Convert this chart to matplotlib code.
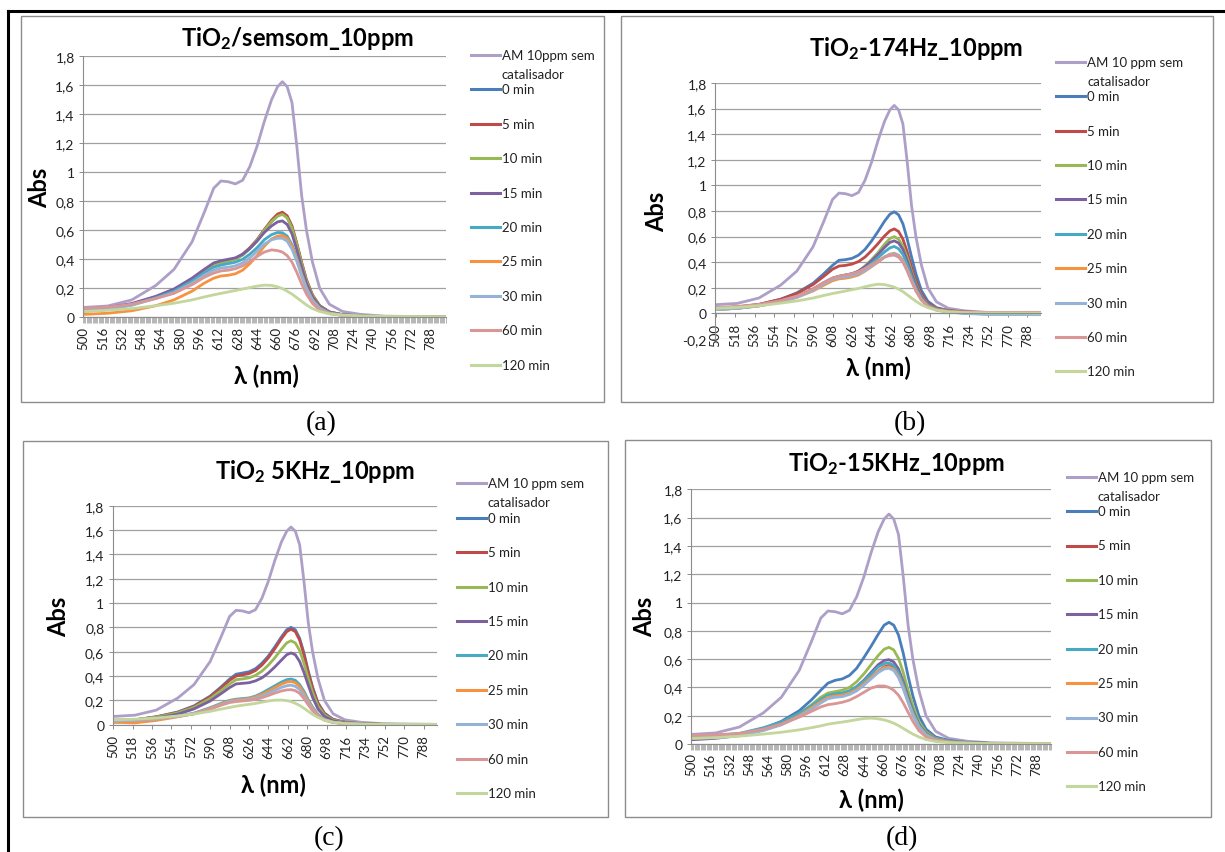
import matplotlib
matplotlib.use("Agg")
import matplotlib.pyplot as plt
from matplotlib.lines import Line2D
from matplotlib.patches import Rectangle
import numpy as np

plt.rcParams['font.family'] = ['Lato', 'DejaVu Sans']
plt.rcParams['mathtext.default'] = 'regular'

wl = [500, 520, 540, 560, 575, 590, 600, 608, 614, 620, 626, 632, 638, 644, 650,
      656, 661, 665, 669, 673, 677, 681, 685, 690, 696, 704, 715, 730, 750, 800]

# methylene blue without catalyst (same in all four panels)
am = [0.068, 0.078, 0.12, 0.22, 0.33, 0.52, 0.72, 0.89, 0.94, 0.935, 0.92, 0.945, 1.04, 1.18, 1.35,
      1.50, 1.59, 1.625, 1.59, 1.48, 1.18, 0.84, 0.60, 0.38, 0.20, 0.09, 0.04, 0.02, 0.008, 0.003]

times = ["0 min", "5 min", "10 min", "15 min", "20 min", "25 min", "30 min", "60 min", "120 min"]
colors = ['#4A7EBB', '#BE4B48', '#98B954', '#7D60A0', '#46AAC5', '#F69240', '#95B3D7', '#D99694', '#C3D69B']
am_color = '#AD9FC8'

# (a) TiO2 / no sound
a_0 = [0.05, 0.062, 0.09, 0.14, 0.19, 0.26, 0.32, 0.365, 0.38, 0.39, 0.405, 0.43, 0.475, 0.53, 0.60,
       0.66, 0.70, 0.715, 0.69, 0.62, 0.50, 0.37, 0.25, 0.15, 0.08, 0.037, 0.018, 0.009, 0.004, 0.002]
a_5 = [0.05, 0.062, 0.09, 0.14, 0.19, 0.26, 0.32, 0.365, 0.38, 0.39, 0.405, 0.435, 0.48, 0.535, 0.605,
       0.67, 0.712, 0.725, 0.70, 0.63, 0.51, 0.38, 0.26, 0.155, 0.08, 0.037, 0.018, 0.009, 0.004, 0.002]
a_10 = [0.04, 0.055, 0.085, 0.135, 0.185, 0.255, 0.315, 0.36, 0.375, 0.385, 0.40, 0.43, 0.475, 0.53, 0.60,
        0.66, 0.697, 0.71, 0.685, 0.615, 0.50, 0.37, 0.25, 0.15, 0.078, 0.035, 0.017, 0.008, 0.004, 0.002]
a_15 = [0.055, 0.067, 0.095, 0.145, 0.195, 0.27, 0.33, 0.375, 0.39, 0.40, 0.41, 0.435, 0.475, 0.525, 0.585,
        0.63, 0.658, 0.665, 0.64, 0.575, 0.465, 0.345, 0.235, 0.14, 0.075, 0.035, 0.017, 0.008, 0.004, 0.002]
a_20 = [0.05, 0.062, 0.088, 0.135, 0.18, 0.25, 0.305, 0.345, 0.36, 0.37, 0.38, 0.40, 0.435, 0.48, 0.535,
        0.57, 0.585, 0.583, 0.56, 0.50, 0.41, 0.30, 0.205, 0.12, 0.065, 0.03, 0.015, 0.007, 0.003, 0.002]
a_25 = [0.02, 0.028, 0.045, 0.08, 0.12, 0.18, 0.235, 0.27, 0.285, 0.29, 0.30, 0.325, 0.37, 0.425, 0.49,
        0.54, 0.56, 0.565, 0.545, 0.49, 0.40, 0.295, 0.20, 0.12, 0.063, 0.028, 0.014, 0.007, 0.003, 0.002]
a_30 = [0.045, 0.057, 0.083, 0.13, 0.17, 0.235, 0.29, 0.325, 0.34, 0.345, 0.355, 0.375, 0.41, 0.455, 0.505,
        0.535, 0.545, 0.545, 0.525, 0.47, 0.385, 0.285, 0.195, 0.115, 0.06, 0.028, 0.014, 0.007, 0.003, 0.002]
a_60 = [0.06, 0.07, 0.09, 0.13, 0.165, 0.225, 0.275, 0.305, 0.32, 0.325, 0.335, 0.355, 0.385, 0.42, 0.45,
        0.465, 0.46, 0.45, 0.425, 0.38, 0.31, 0.23, 0.16, 0.095, 0.05, 0.025, 0.013, 0.006, 0.003, 0.002]
a_120 = [0.04, 0.048, 0.06, 0.08, 0.097, 0.12, 0.14, 0.155, 0.165, 0.175, 0.185, 0.195, 0.205, 0.215, 0.222,
         0.22, 0.21, 0.198, 0.18, 0.16, 0.135, 0.11, 0.085, 0.06, 0.04, 0.024, 0.015, 0.01, 0.006, 0.004]

# (b) 174 Hz
b_0 = [0.04, 0.05, 0.07, 0.11, 0.16, 0.235, 0.31, 0.375, 0.415, 0.42, 0.43, 0.455, 0.50, 0.565, 0.64,
       0.72, 0.775, 0.794, 0.77, 0.70, 0.58, 0.44, 0.31, 0.18, 0.095, 0.045, 0.022, 0.01, 0.004, 0.0]
b_5 = [0.04, 0.05, 0.07, 0.11, 0.155, 0.225, 0.29, 0.345, 0.37, 0.375, 0.385, 0.405, 0.44, 0.49, 0.545,
       0.605, 0.645, 0.66, 0.64, 0.58, 0.48, 0.36, 0.255, 0.15, 0.08, 0.04, 0.022, 0.012, 0.006, 0.005]
b_10 = [0.03, 0.04, 0.06, 0.095, 0.13, 0.19, 0.24, 0.275, 0.29, 0.30, 0.31, 0.33, 0.37, 0.42, 0.475,
        0.54, 0.585, 0.60, 0.58, 0.525, 0.435, 0.325, 0.23, 0.135, 0.07, 0.035, 0.018, 0.008, 0.004, 0.002]
b_15 = [0.04, 0.05, 0.065, 0.10, 0.135, 0.19, 0.24, 0.275, 0.29, 0.30, 0.31, 0.33, 0.365, 0.41, 0.46,
        0.515, 0.555, 0.567, 0.55, 0.50, 0.41, 0.31, 0.22, 0.13, 0.068, 0.033, 0.016, 0.008, 0.003, 0.001]
b_20 = [0.03, 0.04, 0.06, 0.095, 0.13, 0.185, 0.235, 0.27, 0.285, 0.29, 0.30, 0.32, 0.35, 0.39, 0.435,
        0.48, 0.512, 0.523, 0.505, 0.46, 0.38, 0.285, 0.20, 0.12, 0.063, 0.03, 0.012, 0.002, -0.005, -0.008]
b_25 = [0.03, 0.04, 0.058, 0.09, 0.125, 0.175, 0.22, 0.255, 0.27, 0.275, 0.285, 0.30, 0.33, 0.365, 0.40,
        0.44, 0.463, 0.47, 0.455, 0.415, 0.345, 0.26, 0.185, 0.11, 0.058, 0.028, 0.014, 0.006, 0.002, 0.0]
b_30 = [0.03, 0.04, 0.058, 0.09, 0.125, 0.18, 0.23, 0.265, 0.28, 0.285, 0.295, 0.31, 0.335, 0.37, 0.405,
        0.44, 0.46, 0.465, 0.45, 0.41, 0.34, 0.255, 0.18, 0.105, 0.055, 0.025, 0.01, 0.0, -0.008, -0.01]
b_60 = [0.045, 0.055, 0.07, 0.10, 0.135, 0.19, 0.24, 0.275, 0.29, 0.30, 0.31, 0.325, 0.35, 0.38, 0.41,
        0.44, 0.452, 0.455, 0.44, 0.40, 0.33, 0.25, 0.175, 0.105, 0.055, 0.028, 0.015, 0.01, 0.008, 0.008]
b_120 = [0.04, 0.047, 0.06, 0.08, 0.097, 0.12, 0.14, 0.155, 0.165, 0.175, 0.185, 0.195, 0.208, 0.22, 0.228,
         0.225, 0.215, 0.205, 0.19, 0.17, 0.145, 0.12, 0.095, 0.068, 0.045, 0.025, 0.012, 0.006, 0.003, 0.002]

# (c) 5 kHz
c_0 = [0.03, 0.04, 0.065, 0.105, 0.155, 0.235, 0.31, 0.375, 0.415, 0.425, 0.435, 0.46, 0.505, 0.565, 0.64,
       0.72, 0.78, 0.80, 0.78, 0.71, 0.59, 0.44, 0.31, 0.18, 0.095, 0.045, 0.02, 0.008, 0.003, 0.001]
c_5 = [0.03, 0.04, 0.065, 0.10, 0.15, 0.23, 0.30, 0.365, 0.40, 0.41, 0.42, 0.445, 0.49, 0.55, 0.625,
       0.705, 0.765, 0.785, 0.765, 0.695, 0.575, 0.43, 0.30, 0.175, 0.09, 0.043, 0.02, 0.008, 0.003, 0.001]
c_10 = [0.03, 0.04, 0.062, 0.097, 0.143, 0.215, 0.28, 0.335, 0.37, 0.376, 0.385, 0.405, 0.44, 0.49, 0.55,
        0.62, 0.672, 0.69, 0.672, 0.61, 0.505, 0.38, 0.265, 0.155, 0.08, 0.038, 0.018, 0.007, 0.003, 0.001]
c_15 = [0.03, 0.038, 0.055, 0.087, 0.13, 0.195, 0.255, 0.305, 0.335, 0.34, 0.345, 0.36, 0.385, 0.425, 0.475,
        0.53, 0.575, 0.59, 0.575, 0.52, 0.43, 0.325, 0.225, 0.13, 0.068, 0.032, 0.015, 0.006, 0.002, 0.001]
c_20 = [0.02, 0.03, 0.045, 0.07, 0.095, 0.14, 0.175, 0.2, 0.21, 0.215, 0.22, 0.235, 0.26, 0.29, 0.32,
        0.35, 0.37, 0.375, 0.365, 0.33, 0.275, 0.205, 0.145, 0.085, 0.045, 0.022, 0.01, 0.004, 0.002, 0.001]
c_25 = [0.02, 0.015, 0.035, 0.065, 0.09, 0.135, 0.17, 0.195, 0.205, 0.21, 0.215, 0.228, 0.25, 0.275, 0.305,
        0.333, 0.35, 0.355, 0.345, 0.315, 0.26, 0.195, 0.138, 0.08, 0.042, 0.02, 0.009, 0.004, 0.002, 0.001]
c_30 = [0.03, 0.035, 0.045, 0.068, 0.09, 0.13, 0.165, 0.19, 0.198, 0.202, 0.208, 0.218, 0.236, 0.258, 0.283,
        0.306, 0.32, 0.325, 0.315, 0.29, 0.24, 0.18, 0.127, 0.075, 0.04, 0.02, 0.009, 0.004, 0.002, 0.001]
c_60 = [0.04, 0.042, 0.05, 0.07, 0.09, 0.128, 0.16, 0.182, 0.19, 0.195, 0.2, 0.208, 0.222, 0.24, 0.26,
        0.277, 0.286, 0.288, 0.28, 0.258, 0.215, 0.163, 0.115, 0.068, 0.037, 0.018, 0.008, 0.004, 0.002, 0.001]
c_120 = [0.04, 0.045, 0.055, 0.072, 0.088, 0.11, 0.128, 0.142, 0.152, 0.16, 0.167, 0.175, 0.185, 0.195, 0.202,
         0.203, 0.198, 0.19, 0.176, 0.158, 0.135, 0.11, 0.085, 0.06, 0.038, 0.02, 0.01, 0.005, 0.003, 0.002]

# (d) 15 kHz
d_0 = [0.04, 0.045, 0.065, 0.11, 0.16, 0.235, 0.31, 0.38, 0.43, 0.45, 0.46, 0.485, 0.535, 0.61, 0.69,
       0.775, 0.84, 0.86, 0.84, 0.77, 0.64, 0.48, 0.34, 0.2, 0.105, 0.05, 0.025, 0.012, 0.005, 0.002]
d_5 = [0.05, 0.055, 0.07, 0.105, 0.145, 0.21, 0.26, 0.305, 0.33, 0.345, 0.352, 0.365, 0.39, 0.43, 0.47,
       0.515, 0.545, 0.555, 0.54, 0.49, 0.405, 0.305, 0.215, 0.13, 0.068, 0.033, 0.016, 0.008, 0.004, 0.002]
d_10 = [0.05, 0.055, 0.072, 0.11, 0.15, 0.215, 0.275, 0.33, 0.36, 0.37, 0.38, 0.40, 0.44, 0.495, 0.56,
        0.625, 0.67, 0.683, 0.665, 0.605, 0.505, 0.38, 0.27, 0.16, 0.085, 0.04, 0.02, 0.01, 0.004, 0.002]
d_15 = [0.03, 0.04, 0.06, 0.1, 0.14, 0.205, 0.26, 0.31, 0.34, 0.35, 0.357, 0.375, 0.405, 0.45, 0.505,
        0.56, 0.59, 0.596, 0.58, 0.53, 0.44, 0.33, 0.235, 0.14, 0.073, 0.035, 0.017, 0.008, 0.004, 0.002]
d_20 = [0.05, 0.06, 0.075, 0.115, 0.155, 0.215, 0.27, 0.315, 0.345, 0.355, 0.36, 0.375, 0.405, 0.445, 0.495,
        0.545, 0.568, 0.572, 0.555, 0.505, 0.42, 0.315, 0.225, 0.135, 0.07, 0.034, 0.016, 0.008, 0.004, 0.002]
d_25 = [0.04, 0.05, 0.065, 0.1, 0.14, 0.2, 0.255, 0.3, 0.33, 0.34, 0.345, 0.36, 0.385, 0.425, 0.47,
        0.515, 0.54, 0.546, 0.53, 0.48, 0.40, 0.30, 0.21, 0.125, 0.065, 0.032, 0.015, 0.007, 0.003, 0.002]
d_30 = [0.04, 0.045, 0.06, 0.095, 0.135, 0.195, 0.245, 0.29, 0.32, 0.33, 0.335, 0.35, 0.375, 0.415, 0.46,
        0.505, 0.53, 0.535, 0.52, 0.47, 0.39, 0.295, 0.205, 0.122, 0.063, 0.03, 0.014, 0.007, 0.003, 0.002]
d_60 = [0.06, 0.065, 0.075, 0.105, 0.14, 0.19, 0.23, 0.262, 0.278, 0.285, 0.295, 0.31, 0.335, 0.365, 0.395,
        0.41, 0.41, 0.4, 0.38, 0.345, 0.29, 0.225, 0.16, 0.095, 0.05, 0.025, 0.012, 0.006, 0.003, 0.002]
d_120 = [0.04, 0.045, 0.055, 0.07, 0.083, 0.1, 0.115, 0.128, 0.14, 0.148, 0.155, 0.163, 0.172, 0.18, 0.183,
         0.178, 0.17, 0.16, 0.147, 0.13, 0.11, 0.09, 0.07, 0.05, 0.032, 0.018, 0.01, 0.005, 0.003, 0.002]

titles = [r"TiO$_2$/semsom_10ppm", r"TiO$_2$-174Hz_10ppm", r"TiO$_2$ 5KHz_10ppm", r"TiO$_2$-15KHz_10ppm"]
am_labels = ["AM 10ppm sem", "AM 10 ppm sem", "AM 10 ppm sem", "AM 10 ppm sem"]
captions = ["(a)", "(b)", "(c)", "(d)"]
ticks_16 = list(range(500, 801, 16))
ticks_18 = list(range(500, 801, 18))

panels = [
    dict(data=[a_0, a_5, a_10, a_15, a_20, a_25, a_30, a_60, a_120], ymin=0.0, ticks=ticks_16, dense=True,
         box=(20.6, 16.7, 604, 402.7), plot=(83, 57.3, 445.6, 318.3), title=(297, 38.3),
         ylab=(39.5, 188), xlab=(266, 376.7), leg=(471, 56), cap=(321.5, 423.3)),
    dict(data=[b_0, b_5, b_10, b_15, b_20, b_25, b_30, b_60, b_120], ymin=-0.2, ticks=ticks_18, dense=False,
         box=(621, 16.7, 1213, 403), plot=(715, 84, 1041, 340), title=(916.5, 48.3),
         ylab=(657, 211.7), xlab=(878, 368), leg=(1056, 62.7), cap=(910, 423.3)),
    dict(data=[c_0, c_5, c_10, c_15, c_20, c_25, c_30, c_60, c_120], ymin=0.0, ticks=ticks_18, dense=False,
         box=(23, 441.7, 608, 818.3), plot=(112.7, 506.7, 437, 725.7), title=(315, 471.7),
         ylab=(59, 616.7), xlab=(273.6, 785), leg=(456.7, 484.3), cap=(329, 838.3)),
    dict(data=[d_0, d_5, d_10, d_15, d_20, d_25, d_30, d_60, d_120], ymin=0.0, ticks=ticks_16, dense=True,
         box=(625, 441, 1211, 818.3), plot=(691, 490.3, 1051, 745), title=(896, 463.3),
         ylab=(645, 616.7), xlab=(871, 800), leg=(1067, 477.7), cap=(902, 838.3)),
]

W, H = 1225, 853
fig = plt.figure(figsize=(W / 100, H / 100), dpi=100)


def fx(x):
    return x / W


def fy(y):
    return 1 - y / H


gray = '#8C8C8C'

# outer frame of the figure table
fig.add_artist(Line2D([fx(8), 1], [fy(12), fy(12)], color='black', lw=2.2))
fig.add_artist(Line2D([fx(8), fx(8)], [fy(12), 0], color='black', lw=2.2))

for i, p in enumerate(panels):
    bx0, by0, bx1, by1 = p['box']
    fig.add_artist(Rectangle((fx(bx0), fy(by1)), fx(bx1) - fx(bx0), fy(by0) - fy(by1),
                             fill=False, edgecolor=gray, lw=1.0))

    x0, y0, x1, y1 = p['plot']
    ax = fig.add_axes([fx(x0), fy(y1), fx(x1) - fx(x0), fy(y0) - fy(y1)])
    ax.patch.set_alpha(0)

    # category axis crosses the value axis at 0 (matters for panel b)
    for s in ['top', 'right']:
        ax.spines[s].set_visible(False)
    ax.spines['left'].set_color(gray)
    ax.spines['bottom'].set_color(gray)
    if p['ymin'] < 0:
        ax.spines['bottom'].set_position(('data', 0))

    ax.plot(wl, am, color=am_color, lw=2.0, solid_joinstyle='round')
    for vals, col in zip(p['data'], colors):
        ax.plot(wl, vals, color=col, lw=2.0, solid_joinstyle='round')

    ax.set_xlim(499.5, 800.5)
    ax.set_ylim(p['ymin'], 1.8)
    yt = np.round(np.arange(p['ymin'], 1.81, 0.2), 1)
    ax.set_yticks(yt)
    ax.set_yticklabels([f"{v:g}".replace('.', ',') for v in yt], fontsize=10, color='#222222')
    ax.yaxis.grid(True, color='#A0A0A0', lw=0.9)
    ax.set_axisbelow(True)

    ax.set_xticks(p['ticks'])
    ax.set_xticklabels([str(t) for t in p['ticks']], rotation=90, fontsize=9.5, color='#222222')
    if p['dense']:
        ax.set_xticks(np.arange(499.5, 801, 1), minor=True)
        ax.tick_params(axis='x', which='minor', length=4.2, width=0.5, color='#999999', direction='out')
        ax.tick_params(axis='x', which='major', length=0, pad=6)
    else:
        ax.tick_params(axis='x', which='major', length=3, width=0.7, color=gray, pad=4)
    ax.tick_params(axis='y', length=3, width=0.7, color=gray, pad=3)

    tx, ty = p['title']
    fig.text(fx(tx), fy(ty), titles[i], fontsize=17, fontweight='bold', ha='center', va='center')
    lx, ly = p['ylab']
    fig.text(fx(lx), fy(ly), "Abs", fontsize=17, fontweight='bold', rotation=90, ha='center', va='center')
    xx, xy = p['xlab']
    fig.text(fx(xx), fy(xy), "λ (nm)", fontsize=17, fontweight='bold', ha='center', va='center')
    cx, cy = p['cap']
    fig.text(fx(cx), fy(cy), captions[i], fontsize=20, family='Liberation Serif', ha='center', va='center')

    # legend, drawn by hand to follow the Excel layout
    gx, gy = p['leg']
    step = 34.4
    fig.add_artist(Line2D([fx(gx), fx(gx + 29)], [fy(gy), fy(gy)], color=am_color, lw=2.2))
    fig.text(fx(gx + 31), fy(gy), am_labels[i], fontsize=9.5, va='center', ha='left', color='#222222')
    fig.text(fx(gx + 31), fy(gy + 19), "catalisador", fontsize=9.5, va='center', ha='left', color='#222222')
    for k, (name, col) in enumerate(zip(times, colors)):
        yy = gy + step * (k + 1)
        fig.add_artist(Line2D([fx(gx), fx(gx + 29)], [fy(yy), fy(yy)], color=col, lw=2.2))
        fig.text(fx(gx + 31), fy(yy), name, fontsize=9.5, va='center', ha='left', color='#222222')

fig.savefig("out.png", dpi=100, facecolor='white')
